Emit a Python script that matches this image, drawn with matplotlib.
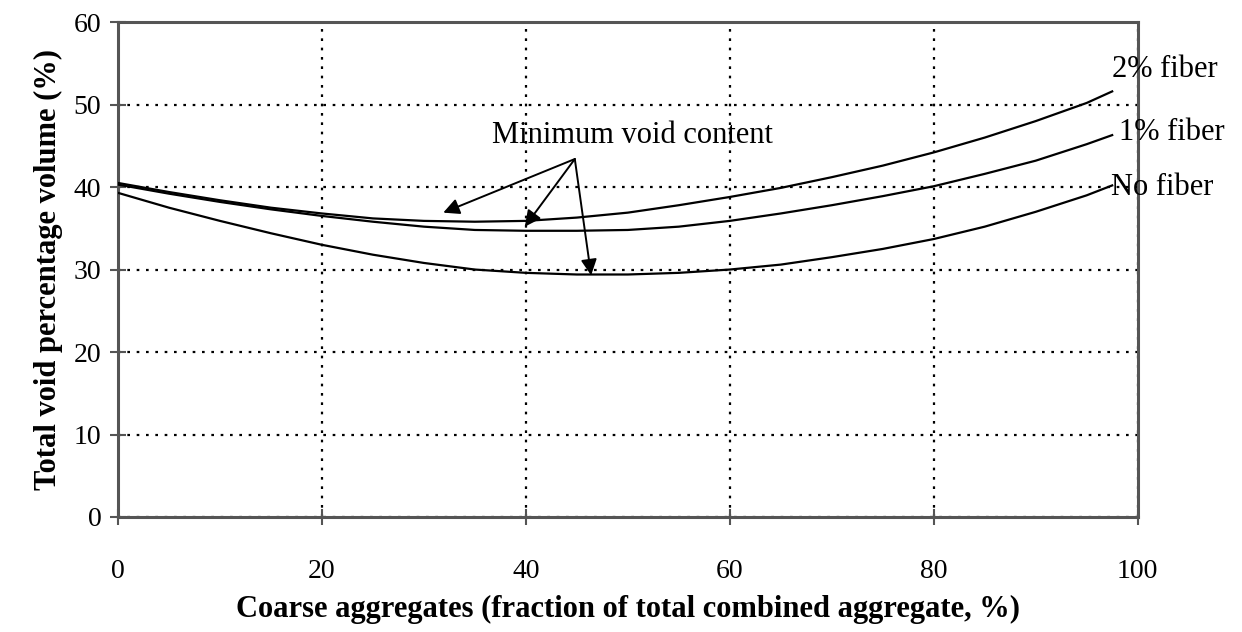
import matplotlib.pyplot as plt

plt.rcParams['font.family'] = ['Liberation Serif', 'DejaVu Serif']

# 데이터
x_vals = [0, 5, 10, 15, 20, 25, 30, 35, 40, 45, 50, 55, 60, 65, 70, 75, 80, 85, 90, 95, 97.5]
no_fiber = [39.3, 37.5, 35.9, 34.4, 33.0, 31.8, 30.8, 30.0, 29.6, 29.4, 29.4, 29.6, 30.0, 30.6,
            31.5, 32.5, 33.7, 35.2, 37.0, 39.0, 40.2]
fiber_1 = [40.3, 39.2, 38.2, 37.3, 36.5, 35.8, 35.2, 34.8, 34.7, 34.7, 34.8, 35.2, 35.9, 36.8,
           37.8, 38.9, 40.1, 41.6, 43.2, 45.2, 46.3]
fiber_2 = [40.5, 39.4, 38.4, 37.5, 36.8, 36.2, 35.9, 35.8, 35.9, 36.3, 36.9, 37.8, 38.8, 39.9,
           41.2, 42.6, 44.2, 46.0, 48.0, 50.2, 51.6]
x_ticks = [0, 20, 40, 60, 80, 100]
y_ticks = [0, 10, 20, 30, 40, 50, 60]

# 화살표 (시작점, 끝점)
arrow_start = (44.8, 43.4)
arrow_tips = [(31.9, 36.9), (39.9, 35.2), (46.4, 29.3)]

fig = plt.figure(figsize=(12.42, 6.32), dpi=100)
ax = fig.add_axes([0.095, 0.182, 0.821, 0.783])

for ys in [no_fiber, fiber_1, fiber_2]:
    ax.plot(x_vals, ys, color='black', lw=1.6, zorder=3)

ax.set_xlim(0, 100)
ax.set_ylim(0, 60)
ax.set_xticks(x_ticks)
ax.set_yticks(y_ticks)
ax.tick_params(axis='both', direction='inout', length=12, width=1.5, color='#555555',
               labelsize=20)
ax.tick_params(axis='x', pad=24)
ax.tick_params(axis='y', pad=6)
for s in ax.spines.values():
    s.set_color('#555555')
    s.set_linewidth(2.2)

ax.grid(True, color='black', linestyle=(0, (1.2, 3)), lw=1.6)

ax.set_xlabel('Coarse aggregates (fraction of total combined aggregate, %)',
              fontsize=22, fontweight='bold', labelpad=8)
ax.set_ylabel('Total void percentage volume (%)', fontsize=22, fontweight='bold', labelpad=8)

# 곡선 라벨
ax.text(97.5, 54.2, '2% fiber', fontsize=22, va='center', ha='left', clip_on=False)
ax.text(98.2, 46.6, '1% fiber', fontsize=22, va='center', ha='left', clip_on=False)
ax.text(97.4, 40.0, 'No fiber', fontsize=22, va='center', ha='left', clip_on=False)

ax.text(50.5, 46.2, 'Minimum void content', fontsize=22, ha='center', va='center')
for tip in arrow_tips:
    ax.annotate('', xy=tip, xytext=arrow_start,
                arrowprops=dict(arrowstyle='-|>', color='black', lw=1.4,
                                mutation_scale=24, shrinkA=0, shrinkB=0))

fig.savefig('out.png', dpi=100)
